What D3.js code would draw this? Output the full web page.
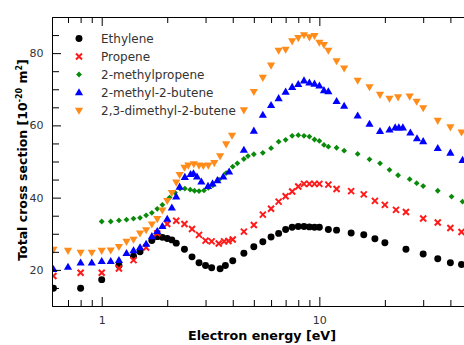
<!DOCTYPE html>
<html>
<head>
<meta charset="utf-8">
<script src="https://cdn.jsdelivr.net/npm/d3@7"></script>
<style>
  body { margin: 0; background: #fff; }
  svg { display: block; font-family: "DejaVu Sans", Verdana, sans-serif; }
</style>
</head>
<body>
<div id="viz"></div>
<script>
// data: [energy eV, cross section 1e-20 m2]
const ethylene = [[0.6,14.9],[0.8,14.9],[1.0,17.3],[1.2,21.2],[1.4,23.8],[1.5,25.0],[1.7,28.1],[1.8,29.2],[1.9,29.0],[2.0,28.7],[2.1,28.3],[2.2,27.4],[2.4,25.7],[2.6,23.6],[2.8,22.0],[3.0,21.2],[3.2,20.6],[3.5,20.3],[3.7,21.2],[4.0,22.5],[4.5,24.6],[5,26.4],[5.5,27.8],[6,29.1],[6.5,30.1],[7,31.2],[7.5,31.8],[8,32.0],[8.5,32.0],[9,31.9],[9.5,31.8],[10,31.8],[11,31.2],[12,31.0],[14,30.2],[16,29.7],[18,28.6],[20,27.5],[25,25.7],[30,24.4],[35,23.1],[40,22.0],[45,21.5]]
const propene = [[0.6,18.3],[0.8,19.2],[1.0,19.2],[1.2,20.4],[1.4,22.7],[1.6,26.2],[1.8,30.1],[2.0,32.7],[2.2,33.6],[2.4,32.7],[2.6,31.3],[2.8,29.7],[3.0,28.1],[3.2,27.9],[3.45,27.3],[3.65,27.9],[3.82,28.0],[4.0,28.4],[4.5,30.6],[5.0,32.4],[5.5,35.3],[6.0,36.9],[6.5,38.9],[7.0,40.4],[7.5,41.7],[8.0,43.1],[8.5,43.8],[9.0,43.8],[9.5,43.8],[10,43.8],[11,43.6],[12,42.4],[14,41.8],[16,40.9],[18,39.1],[20,38.0],[22.5,36.6],[25,36.0],[30,34.2],[35,33.1],[40,31.6],[45,30.5]]
const methylpropene = [[1.0,33.4],[1.1,33.4],[1.2,33.7],[1.3,33.9],[1.4,34.2],[1.5,34.4],[1.6,35.1],[1.7,35.8],[1.8,36.9],[1.9,38.0],[2.05,40.0],[2.17,41.4],[2.29,42.5],[2.41,42.5],[2.55,42.2],[2.67,41.9],[2.8,41.8],[2.95,42.0],[3.09,42.7],[3.24,43.4],[3.46,45.0],[3.73,46.8],[4.0,48.6],[4.2,49.5],[4.5,50.7],[4.7,51.5],[5.0,52.0],[5.5,52.4],[6.0,53.7],[6.5,55.5],[7.0,56.0],[7.5,57.1],[8.0,57.3],[8.5,57.1],[9.0,56.9],[9.5,56.1],[10,55.7],[10.5,54.6],[11,54.1],[12,53.8],[13,53.0],[15,52.1],[17,50.6],[19,49.5],[21,47.7],[23,46.2],[26,45.1],[28,44.0],[30,43.2],[35,41.9],[40.5,40.3],[45.5,38.9]]
const methylbutene = [[0.6,20.2],[0.7,20.8],[0.8,22.0],[0.9,22.0],[1.0,22.4],[1.1,22.4],[1.2,22.7],[1.3,24.6],[1.4,25.4],[1.5,26.2],[1.6,27.2],[1.7,29.3],[1.8,30.7],[1.9,32.1],[2.0,34.1],[2.1,37.2],[2.2,40.3],[2.28,43.0],[2.41,45.7],[2.56,46.5],[2.64,46.7],[2.74,45.8],[2.87,44.4],[3.08,43.2],[3.23,43.9],[3.4,44.8],[3.62,45.8],[3.85,47.2],[4.5,53.2],[5.0,58.5],[5.5,62.9],[6.0,65.6],[6.5,67.5],[7.0,69.3],[7.5,70.6],[8.0,71.4],[8.5,72.4],[9.0,71.8],[9.5,71.5],[10,71.0],[10.5,69.7],[11,69.4],[12,66.7],[13,65.4],[15,62.7],[17,60.4],[19,58.4],[21,58.8],[22.3,59.4],[23.2,59.4],[24.2,59.4],[26.2,58.0],[28.1,56.4],[30,55.6],[35,53.7],[40,52.4],[45.5,50.4]]
const dimethylbutene = [[0.6,25.6],[0.7,25.3],[0.8,24.8],[0.9,24.8],[1.0,25.3],[1.1,25.4],[1.2,26.4],[1.3,27.8],[1.4,28.4],[1.5,30.1],[1.6,31.0],[1.7,32.6],[1.8,34.1],[1.9,36.5],[2.0,39.1],[2.1,41.3],[2.2,44.2],[2.28,46.3],[2.4,48.3],[2.5,48.9],[2.65,49.3],[2.8,48.9],[2.93,48.8],[3.09,48.9],[3.29,49.6],[3.5,51.5],[3.73,54.8],[3.97,57.2],[4.5,64.2],[5.0,69.3],[5.5,73.2],[6.0,76.6],[6.5,80.7],[7.0,81.0],[7.5,83.3],[8.0,84.2],[8.5,85.0],[9.0,84.4],[9.5,84.8],[10,82.9],[10.5,82.3],[11,80.7],[12,77.8],[13,75.8],[15,72.4],[17,70.6],[19,68.5],[21,67.4],[23,67.8],[26,68.0],[28,66.6],[30,64.8],[35,61.3],[40,59.5],[45,58.1]]

const seriesNames = ["Ethylene", "Propene", "2-methylpropene", "2-methyl-2-butene", "2,3-dimethyl-2-butene"]
const seriesData = [ethylene, propene, methylpropene, methylbutene, dimethylbutene]
const seriesColors = ["#000000", "#ff1a1a", "#0a8a0a", "#0000ff", "#ff8c1a"]
const seriesShapes = ["circle", "cross", "diamond", "triangle", "triangleDown"]

const xMajor = [1, 10]
const xMinor = [0.7, 0.8, 0.9, 2, 3, 4, 5, 6, 7, 8, 9, 20, 30, 40]
const yMajor = [20, 40, 60, 80]
const yMinor = [15, 25, 30, 35, 45, 50, 55, 65, 70, 75, 85]

const width = 464, height = 345
const margin = {top: 17, right: 0, bottom: 39, left: 52}

const svg = d3.select("#viz").append("svg")
  .attr("width", width)
  .attr("height", height)

const x = d3.scaleLog()
  .domain([0.591, 46.2])
  .range([margin.left, width - margin.right])
const y = d3.scaleLinear()
  .domain([10, 90])
  .range([height - margin.bottom, margin.top])

svg.append("clipPath").attr("id", "plot")
  .append("rect")
    .attr("x", margin.left).attr("y", margin.top)
    .attr("width", width - margin.left - margin.right)
    .attr("height", height - margin.top - margin.bottom)

// marker paths
const circle = d3.symbol(d3.symbolCircle, 38)()
const diamond = d3.symbol(d3.symbolSquare, 17)()
const triangle = d3.symbol(d3.symbolTriangle, 29)()

function drawMarker(g, shape, color) {
  if (shape === "circle") {
    g.append("path").attr("d", circle).attr("fill", color)
  } else if (shape === "cross") {
    g.append("path").attr("d", "M-3,-3L3,3M-3,3L3,-3")
      .attr("stroke", color).attr("stroke-width", 2).attr("fill", "none")
  } else if (shape === "diamond") {
    g.append("path").attr("d", diamond).attr("fill", color).attr("transform", "rotate(45)")
  } else if (shape === "triangle") {
    g.append("path").attr("d", triangle).attr("fill", color).attr("transform", "translate(0,0.5)")
  } else {
    g.append("path").attr("d", triangle).attr("fill", color).attr("transform", "translate(0,-0.5) rotate(180)")
  }
}

// points
const plot = svg.append("g").attr("clip-path", "url(#plot)")
seriesData.forEach((data, i) => {
  plot.append("g").selectAll("g")
    .data(data)
    .join("g")
      .attr("transform", d => `translate(${x(d[0])},${y(d[1])})`)
      .each(function () { drawMarker(d3.select(this), seriesShapes[i], seriesColors[i]) })
})

// axes, ticks point inward
const fmt = d => d3.format("d")(d)
function styleAxis(g) {
  g.select(".domain").attr("stroke", "#000")
  g.selectAll(".tick line").attr("stroke", "#000")
  g.selectAll(".tick text").attr("fill", "#333").attr("font-size", "11px")
    .attr("font-family", '"DejaVu Sans", Verdana, sans-serif')
}

const yBase = height - margin.bottom
svg.append("g").attr("transform", `translate(0,${yBase})`)
  .call(d3.axisBottom(x).tickValues(xMinor).tickSize(-6).tickSizeOuter(0).tickFormat(""))
  .call(styleAxis)
svg.append("g").attr("transform", `translate(0,${yBase})`)
  .call(d3.axisBottom(x).tickValues(xMajor).tickSize(-9).tickSizeOuter(0).tickPadding(10).tickFormat(fmt))
  .call(styleAxis)

svg.append("g").attr("transform", `translate(0,${margin.top})`)
  .call(d3.axisTop(x).tickValues(xMinor).tickSize(-6).tickSizeOuter(0).tickFormat(""))
  .call(styleAxis)
svg.append("g").attr("transform", `translate(0,${margin.top})`)
  .call(d3.axisTop(x).tickValues(xMajor).tickSize(-9).tickSizeOuter(0).tickFormat(""))
  .call(styleAxis)

svg.append("g").attr("transform", `translate(${margin.left},0)`)
  .call(d3.axisLeft(y).tickValues(yMinor).tickSize(-7).tickSizeOuter(0).tickFormat(""))
  .call(styleAxis)
svg.append("g").attr("transform", `translate(${margin.left},0)`)
  .call(d3.axisLeft(y).tickValues(yMajor).tickSize(-9).tickSizeOuter(0).tickPadding(8.5).tickFormat(fmt))
  .call(styleAxis)

// axis titles
svg.append("text")
  .attr("x", 262).attr("y", 340)
  .attr("text-anchor", "middle")
  .attr("font-size", "13px").attr("font-weight", "bold")
  .attr("textLength", 148).attr("lengthAdjust", "spacingAndGlyphs")
  .text("Electron energy [eV]")

const yTitle = svg.append("text")
  .attr("transform", "translate(27,160) rotate(-90)")
  .attr("text-anchor", "middle")
  .attr("font-size", "12.5px").attr("font-weight", "bold")
yTitle.append("tspan").text("Total cross section [10")
yTitle.append("tspan").attr("font-size", "8px").attr("dy", -5).text("-20")
yTitle.append("tspan").attr("dy", 5).text(" m")
yTitle.append("tspan").attr("font-size", "8px").attr("dy", -5).text("2")
yTitle.append("tspan").attr("dy", 5).text("]")

// legend
const legend = svg.append("g")
seriesNames.forEach((name, i) => {
  const row = legend.append("g").attr("transform", `translate(0,${38.5 + i * 18})`)
  drawMarker(row.append("g").attr("transform", "translate(79,0)"), seriesShapes[i], seriesColors[i])
  row.append("text")
    .attr("x", 101).attr("dy", "0.36em")
    .attr("font-size", "12px").attr("fill", "#333")
    .text(name)
})
</script>
</body>
</html>
